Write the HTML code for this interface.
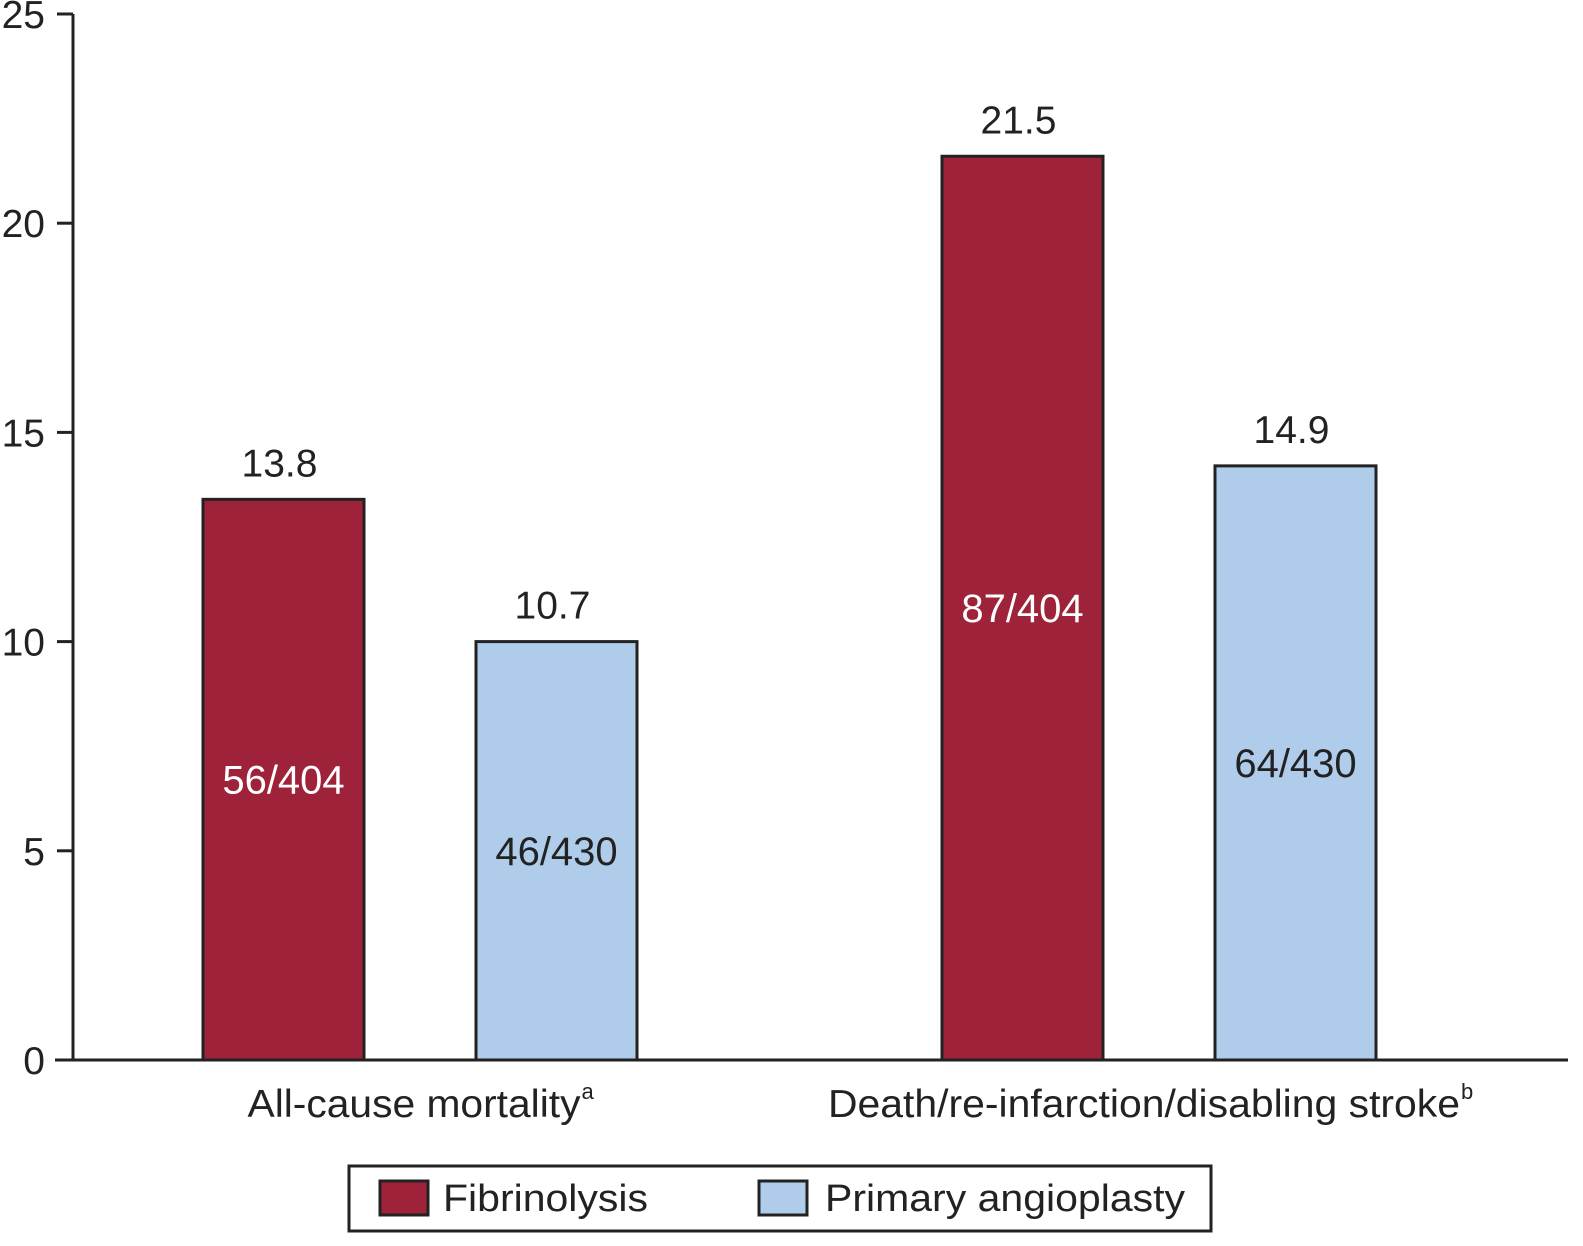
<!DOCTYPE html>
<html><head><meta charset="utf-8"><style>
html,body{margin:0;padding:0;background:#fff;}
svg{display:block;font-family:"Liberation Sans",Arial,sans-serif;}
</style></head><body>
<svg id="chart" width="1583" height="1246" viewBox="0 0 1583 1246">
<g id="axes"></g>
<g id="bars"></g>
<g id="legend">
  <rect x="349" y="1166" width="862" height="65" fill="#fff" stroke="#222" stroke-width="3"/>
  <rect x="380" y="1181" width="48" height="34" fill="#9e2239" stroke="#222" stroke-width="3"/>
  <text x="443" y="1211" font-size="38" textLength="205" lengthAdjust="spacingAndGlyphs" fill="#222">Fibrinolysis</text>
  <rect x="759" y="1181" width="48" height="34" fill="#afcdeb" stroke="#222" stroke-width="3"/>
  <text x="825" y="1211" font-size="38" textLength="360" lengthAdjust="spacingAndGlyphs" fill="#222">Primary angioplasty</text>
</g>
</svg>
<script>
const categories = ["All-cause mortality", "Death/re-infarction/disabling stroke"];
const superscripts = ["a", "b"];
const fibrinolysisHeights = [13.4, 21.6];
const angioplastyHeights = [10.0, 14.2];
const fibrinolysisLabels = ["13.8", "21.5"];
const angioplastyLabels = ["10.7", "14.9"];
const fibrinolysisCounts = ["56/404", "87/404"];
const angioplastyCounts = ["46/430", "64/430"];
const yTicks = [0, 5, 10, 15, 20, 25];

const NS = "http://www.w3.org/2000/svg";
const y0 = 1060, yTop = 14, yMax = 25;
function yScale(v){ return y0 - (y0 - yTop) * v / yMax; }
const groupStart = [203, 942], barW = 161, barGap = 273;
function xBar(g, s){ return groupStart[g] + s * barGap; }
function mk(tag, attrs, parent){
  const e = document.createElementNS(NS, tag);
  for (const k in attrs) e.setAttribute(k, attrs[k]);
  parent.appendChild(e); return e;
}
const axes = document.getElementById("axes");
const bars = document.getElementById("bars");

let yl = mk("line", {x1:73, y1:yTop, x2:73, y2:y0+1, stroke:"#222", "stroke-width":3}, axes);


let xl = mk("line", {x1:55, y1:y0, x2:1568, y2:y0, stroke:"#222", "stroke-width":3}, axes);


yTicks.forEach(t => {
  const y = yScale(t);
  const tk = mk("line", {x1:57, y1:y, x2:73, y2:y, stroke:"#222", "stroke-width":3}, axes);
  
  
  const tx = mk("text", {x:45, y:y+14, "font-size":39, "text-anchor":"end", fill:"#222"}, axes);
  tx.textContent = t;
  
  
});

const catCenters = [420, 1150];
const catWidths = [333, 632];
categories.forEach((c, i) => {
  const tx = mk("text", {x:catCenters[i]-catWidths[i]/2-6, y:1117, "font-size":39, fill:"#222", textLength:catWidths[i], lengthAdjust:"spacingAndGlyphs"}, axes);
  tx.textContent = c;
  
  
  const sp = mk("text", {x:catCenters[i]+catWidths[i]/2-5, y:1099, "font-size":22, fill:"#222"}, axes);
  sp.textContent = superscripts[i];
  
  
});

const series = [
  {h: fibrinolysisHeights, l: fibrinolysisLabels, c: fibrinolysisCounts, fill:"#9e2239", txt:"#fff", name:"fibrinolysis"},
  {h: angioplastyHeights, l: angioplastyLabels, c: angioplastyCounts, fill:"#afcdeb", txt:"#222", name:"primary-angioplasty"}
];
series.forEach((s, si) => {
  s.h.forEach((v, g) => {
    const x = xBar(g, si), yt = yScale(v);
    const r = mk("rect", {x:x, y:yt, width:barW, height:y0-yt, fill:s.fill, stroke:"#222", "stroke-width":3}, bars);
    
    
    const vl = mk("text", {x:x+barW/2-4, y:yt-23, "font-size":39, "text-anchor":"middle", fill:"#222"}, bars);
    vl.textContent = s.l[g];
    
    
    const cl = mk("text", {x:x+barW/2, y:(yt+y0)/2+14, "font-size":40, "text-anchor":"middle", fill:s.txt}, bars);
    cl.textContent = s.c[g];
    
    
  });
});
</script>
</body></html>
